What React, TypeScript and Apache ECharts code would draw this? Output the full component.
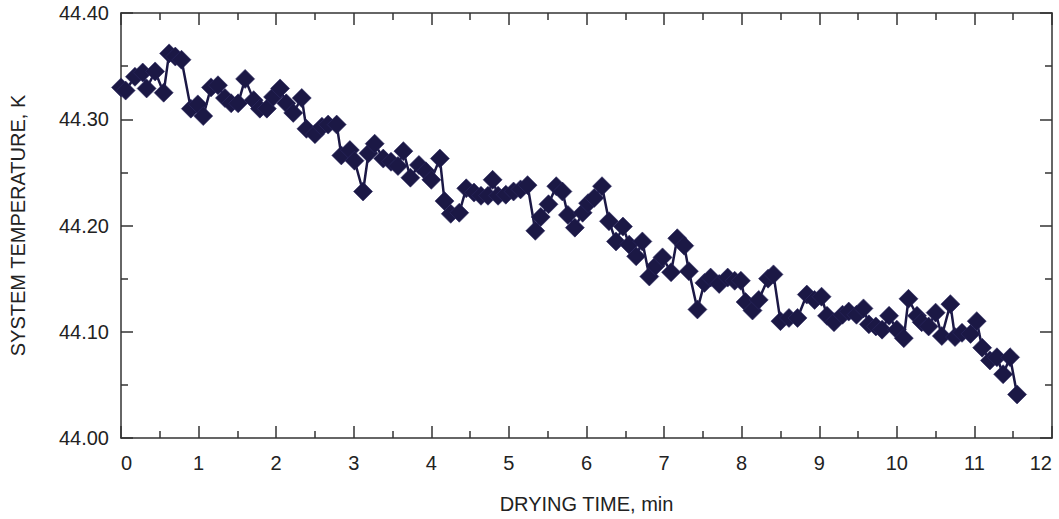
import React, { useEffect, useRef } from "react";
import * as echarts from "echarts";

const timeMin: number[] = [
  0.0, 0.06, 0.18, 0.28, 0.33, 0.44, 0.55, 0.62, 0.7, 0.78, 0.9, 0.99, 1.06, 1.16, 1.25, 1.34, 1.42, 1.51,
  1.6, 1.71, 1.79, 1.88, 1.96, 2.05, 2.13, 2.22, 2.33, 2.39, 2.5, 2.59, 2.67, 2.78, 2.84, 2.95, 3.01, 3.12,
  3.19, 3.27, 3.38, 3.48, 3.57, 3.64, 3.73, 3.84, 3.93, 4.0, 4.11, 4.17, 4.25, 4.36, 4.45, 4.55, 4.64, 4.73,
  4.79, 4.86, 4.96, 5.06, 5.15, 5.24, 5.34, 5.41, 5.51, 5.61, 5.69, 5.76, 5.85, 5.95, 6.02, 6.1, 6.2, 6.29,
  6.38, 6.47, 6.55, 6.64, 6.72, 6.81, 6.89, 6.98, 7.09, 7.17, 7.26, 7.32, 7.43, 7.52, 7.6, 7.71, 7.82, 7.91,
  7.99, 8.05, 8.14, 8.22, 8.34, 8.41, 8.5, 8.61, 8.72, 8.84, 8.94, 9.03, 9.1, 9.19, 9.3, 9.38, 9.48, 9.57,
  9.64, 9.73, 9.81, 9.9, 10.0, 10.09, 10.15, 10.26, 10.32, 10.41, 10.5, 10.58, 10.69, 10.75, 10.84, 10.95,
  11.03, 11.1, 11.2, 11.29, 11.37, 11.46, 11.55,
];

const temperatureK: number[] = [
  44.33, 44.327, 44.34, 44.344, 44.329, 44.345, 44.325, 44.362, 44.359, 44.356, 44.31, 44.314, 44.303,
  44.33, 44.332, 44.32, 44.315, 44.315, 44.338, 44.318, 44.31, 44.31, 44.321, 44.329, 44.315, 44.306,
  44.32, 44.291, 44.286, 44.293, 44.295, 44.295, 44.266, 44.271, 44.261, 44.232, 44.268, 44.277, 44.263,
  44.26, 44.256, 44.27, 44.245, 44.257, 44.251, 44.243, 44.263, 44.223, 44.211, 44.212, 44.235, 44.231,
  44.228, 44.228, 44.243, 44.228, 44.229, 44.232, 44.234, 44.238, 44.195, 44.208, 44.22, 44.237, 44.232,
  44.21, 44.198, 44.212, 44.221, 44.226, 44.237, 44.204, 44.185, 44.199, 44.182, 44.171, 44.185, 44.152,
  44.162, 44.17, 44.156, 44.188, 44.181, 44.157, 44.121, 44.146, 44.151, 44.145, 44.151, 44.148, 44.148,
  44.128, 44.12, 44.13, 44.15, 44.154, 44.11, 44.113, 44.113, 44.135, 44.13, 44.133, 44.115, 44.109,
  44.116, 44.119, 44.116, 44.122, 44.107, 44.105, 44.102, 44.115, 44.102, 44.094, 44.131, 44.115, 44.109,
  44.105, 44.118, 44.096, 44.126, 44.095, 44.099, 44.098, 44.11, 44.085, 44.073, 44.076, 44.06, 44.076,
  44.041,
];

const xTitle = "DRYING TIME, min";
const yTitle = "SYSTEM TEMPERATURE, K";

const FONT = "'Liberation Sans', Arial, Helvetica, sans-serif";
const AXIS_COLOR = "#333";
const TEXT_COLOR = "#222";
const MARK_COLOR = "#1b1845";

export default function App() {
  const ref = useRef<HTMLDivElement>(null);

  useEffect(() => {
    if (!ref.current) return;
    const chart = echarts.init(ref.current, undefined, { renderer: "svg" });
    const data = timeMin.map((t, i) => [t, temperatureK[i]]);

    const lineStyle = { color: AXIS_COLOR, width: 1.5 };
    const baseX = {
      type: "value" as const,
      min: 0,
      max: 12,
      interval: 1,
      axisLine: { show: true, onZero: false, lineStyle },
      axisTick: { show: true, inside: true, length: 12, lineStyle },
      minorTick: { show: true, splitNumber: 2, length: 7, lineStyle },
      splitLine: { show: false },
    };
    const baseY = {
      type: "value" as const,
      min: 44,
      max: 44.4,
      interval: 0.1,
      axisLine: { show: true, onZero: false, lineStyle },
      axisTick: { show: true, inside: true, length: 12, lineStyle },
      minorTick: { show: true, splitNumber: 2, length: 7, lineStyle },
      splitLine: { show: false },
    };

    chart.setOption({
      animation: false,
      backgroundColor: "#fff",
      grid: { left: 119, right: 7, top: 13, bottom: 80, containLabel: false },
      xAxis: [
        {
          ...baseX,
          position: "bottom",
          axisLabel: {
            fontSize: 20,
            color: TEXT_COLOR,
            fontFamily: FONT,
            margin: 15,
            alignMinLabel: "left",
            alignMaxLabel: "right",
          },
          name: xTitle,
          nameLocation: "middle",
          nameGap: 56,
          nameTextStyle: { fontSize: 20, color: TEXT_COLOR, fontFamily: FONT },
        },
        {
          ...baseX,
          position: "top",
          axisLabel: { show: false },
        },
      ],
      yAxis: [
        {
          ...baseY,
          position: "left",
          axisLabel: {
            fontSize: 20,
            color: TEXT_COLOR,
            fontFamily: FONT,
            margin: 12,
            formatter: (v: number) => v.toFixed(2),
          },
          name: yTitle,
          nameLocation: "middle",
          nameGap: 93,
          nameTextStyle: { fontSize: 20, color: TEXT_COLOR, fontFamily: FONT },
        },
        {
          ...baseY,
          position: "right",
          axisLabel: { show: false },
        },
      ],
      series: [
        {
          type: "line",
          data,
          xAxisIndex: 0,
          yAxisIndex: 0,
          symbol: "diamond",
          symbolSize: 19,
          showAllSymbol: true,
          lineStyle: { color: MARK_COLOR, width: 2.5 },
          itemStyle: { color: MARK_COLOR, borderColor: "#2c2960", borderWidth: 0.6 },
          emphasis: { disabled: true },
        },
      ],
    });

    return () => chart.dispose();
  }, []);

  return (
    <div
      ref={ref}
      style={{ position: "absolute", left: 0, top: 0, width: 1059, height: 519 }}
    />
  );
}
